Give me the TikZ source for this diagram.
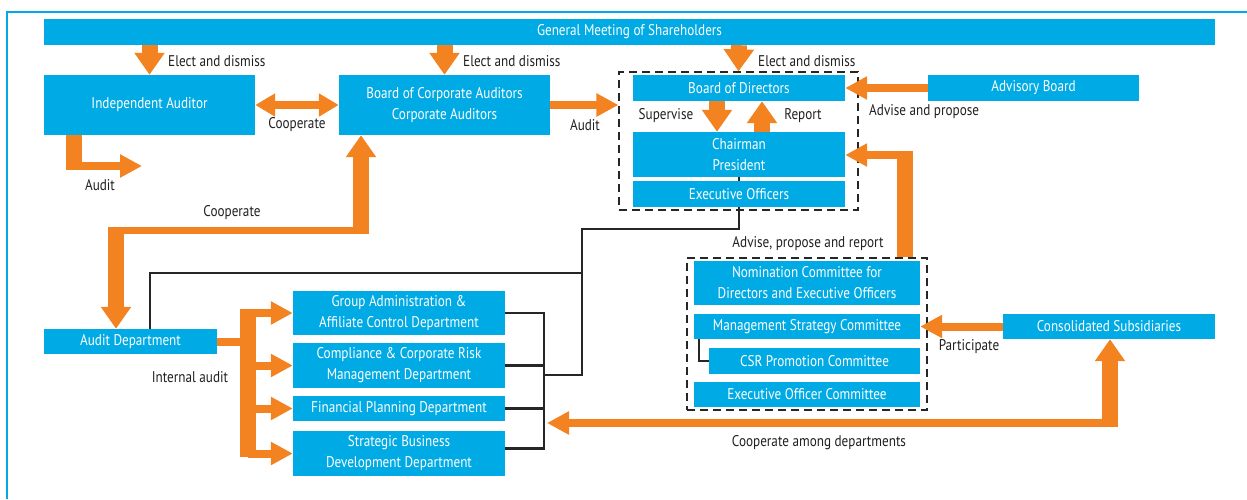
\documentclass[tikz,border=0pt]{standalone}
\usepackage{fontspec}
\setmainfont[FakeStretch=0.85]{PT Sans}
\usepackage{tikz}
\usetikzlibrary{arrows.meta, positioning}

\definecolor{orgblue}{RGB}{0,170,228}
\definecolor{orgorange}{RGB}{243,130,32}
\definecolor{orgtext}{RGB}{35,31,32}

\begin{document}
\begin{tikzpicture}[x=1pt, y=-1pt, font=\fontsize{15.5}{21}\selectfont,
    box/.style 2 args={fill=orgblue, text=white, inner sep=0pt, align=center,
      minimum width=#1, minimum height=#2},
    grp/.style 2 args={draw=black!85, dash pattern=on 8pt off 5pt, line width=1.2pt,
      inner sep=0pt, minimum width=#1, minimum height=#2},
    lbl/.style={text=orgtext, inner sep=0pt},
    wire/.style={draw=black!85, line width=2.2pt},
    obar/.style={draw=orgorange, line width=8pt},
    ofatbar/.style={draw=orgorange, line width=16pt},
    oarr/.style={obar, -{Triangle[width=22pt,length=22pt]}},
    ofat/.style={ofatbar, -{Triangle[width=29pt,length=22pt]}},
    odbl/.style={obar, {Triangle[width=22pt,length=20pt]}-{Triangle[width=22pt,length=20pt]}}]
  \useasboundingbox (0,0) rectangle (1247,499);
  \draw[draw=orgblue, line width=2pt] (7,499) -- (7,12) -- (1247,12);

  % top of the chart
  \node[box={1171pt}{26pt}] (gms) at (629.5,32) {General Meeting of Shareholders};
  \node[box={211pt}{60pt}] (ia) at (149.5,105) {Independent Auditor};
  \node[box={211pt}{60pt}] (bca) at (444.5,105) {Board of Corporate Auditors\\Corporate Auditors};
  \node[grp={239pt}{138pt}] (grpA) at (738.5,141) {};
  \node[box={212pt}{26pt}] (bod) at (739,88) {Board of Directors};
  \node[box={212pt}{45pt}] (chair) at (739,154.5) {Chairman\\President};
  \node[box={212pt}{26pt}] (eo) at (739,194) {Executive Officers};
  \node[box={211pt}{26pt}] (ab) at (1033.5,88) {Advisory Board};

  % committees
  \node[grp={240pt}{152pt}] (grpB) at (807,334) {};
  \node[box={226pt}{44pt}] (nom) at (807,283) {Nomination Committee for\\Directors and Executive Officers};
  \node[box={226pt}{25pt}] (msc) at (807,326.5) {Management Strategy Committee};
  \node[box={211pt}{26pt}] (csr) at (814.5,361) {CSR Promotion Committee};
  \node[box={226pt}{25pt}] (eoc) at (807,394.5) {Executive Officer Committee};
  \node[box={212pt}{25pt}] (cs) at (1109,326.5) {Consolidated Subsidiaries};

  % departments
  \node[box={173pt}{25pt}] (ad) at (130.5,341.5) {Audit Department};
  \node[box={212pt}{44pt}] (d1) at (399,313) {Group Administration \&\\Affiliate Control Department};
  \node[box={212pt}{45pt}] (d2) at (399,365.5) {Compliance \& Corporate Risk\\Management Department};
  \node[box={212pt}{25pt}] (d3) at (399,408.5) {Financial Planning Department};
  \node[box={212pt}{45pt}] (d4) at (399,453.5) {Strategic Business\\Development Department};

  % black lines
  \coordinate (j1) at (582,229);
  \coordinate (j2) at (582,375);
  \coordinate (j3) at (544,375);
  \coordinate (j4) at (582,273);
  \draw[wire] (chair.south) -- (eo.north);
  \draw[wire] (eo.south) |- (j1) -- (j2) -- (j3);
  \draw[wire] ([xshift=19.5pt]ad.north) |- (j4);
  \draw[wire] (d1.east) -| (j3);
  \draw[wire] ([yshift=5pt]d4.east) -| (j3);
  \draw[wire] (d2.east) -- (d2.east -| j3);
  \draw[wire] (d3.east) -- (d3.east -| j3);
  \draw[wire] ([xshift=-108pt]msc.south) |- (csr.west);

  % orange arrows
  \draw[ofat] (gms.south -| ia.north) -- (ia.north);
  \draw[ofat] (gms.south -| bca.north) -- (bca.north);
  \draw[ofat] (gms.south -| bod.north) -- (grpA.north);
  \draw[odbl] (ia.east) -- (bca.west);
  \draw[oarr] (bca.east) -- (bca.east -| grpA.west);
  \draw[ofat] ([xshift=-22pt]bod.south) -- ([xshift=-22pt]chair.north);
  \draw[ofat] ([xshift=23pt]chair.north) -- ([xshift=23pt]bod.south);
  \draw[oarr] (ab.west) -- (bod.east);
  \draw[oarr] (cs.west) -- (msc.east);

  \coordinate (iaBend) at (74,166);
  \coordinate (iaAudit) at (142,166);
  \draw[ofatbar] (ia.south -| iaBend) -- ([yshift=-4pt]iaBend);
  \draw[oarr] ([xshift=-8pt]iaBend) -- (iaAudit);

  \coordinate (coL) at (116,230.5);
  \coordinate (coR) at (361,230.5);
  \draw[draw=orgorange, line width=7pt] ([xshift=-8pt]coL) -- ([xshift=8pt]coR);
  \draw[ofat] ([yshift=3.5pt]coL) -- (coL |- ad.north);
  \draw[ofat] ([yshift=-3.5pt]coR) -- (coR |- bca.south);

  \coordinate (aprB) at (905,155);
  \draw[ofatbar] (grpB.north -| aprB) -- ([yshift=4pt]aprB);
  \draw[oarr] ([xshift=8pt]aprB) -- (aprB -| chair.east);

  \coordinate (cadR) at (1110,423);
  \coordinate (cadL) at (547,423);
  \draw[oarr] ([xshift=8pt]cadR) -- (cadL);
  \draw[ofat] ([yshift=-4pt]cadR) -- (cadR |- cs.south);

  \coordinate (iaTop) at (248,313);
  \coordinate (iaBot) at (248,453);
  \draw[obar] (ad.east) -- (ad.east -| iaTop);
  \draw[ofatbar] ([yshift=4pt]iaTop) -- ([yshift=-4pt]iaBot);
  \foreach \d in {d1,d2,d3,d4}
    \draw[oarr] (\d.west -| iaTop) -- (\d.west);

  % labels
  \node[lbl, anchor=west] (l1) at (168,61) {Elect and dismiss};
  \node[lbl, anchor=west] (l2) at (463,61) {Elect and dismiss};
  \node[lbl, anchor=west] (l3) at (758,61) {Elect and dismiss};
  \node[lbl] (l4) at (297,125) {Cooperate};
  \node[lbl] (l5) at (100,185) {Audit};
  \node[lbl] (l6) at (585,125) {Audit};
  \node[lbl] (l7) at (666,116) {Supervise};
  \node[lbl] (l8) at (803,116) {Report};
  \node[lbl, anchor=west] (l9) at (869,112) {Advise and propose};
  \node[lbl] (l10) at (232,213) {Cooperate};
  \node[lbl] (l11) at (808,244) {Advise, propose and report};
  \node[lbl] (l12) at (190,377) {Internal audit};
  \node[lbl] (l13) at (969,347) {Participate};
  \node[lbl] (l14) at (819,443) {Cooperate among departments};
\end{tikzpicture}
\end{document}
